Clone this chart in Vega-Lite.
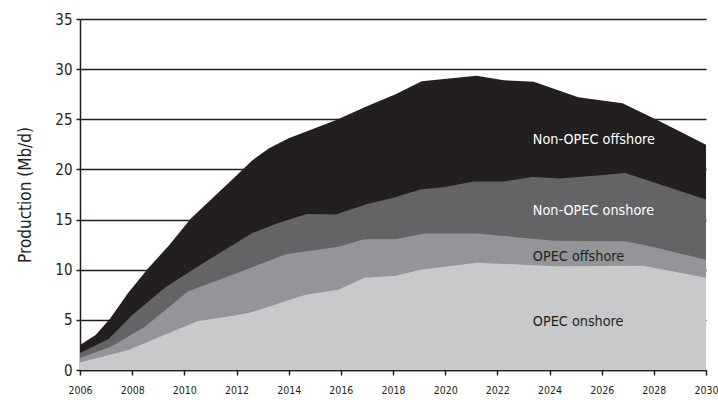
{
  "$schema": "https://vega.github.io/schema/vega-lite/v6.json",
  "width": 626,
  "height": 351,
  "autosize": "none",
  "padding": {"left": 80, "top": 19, "right": 12, "bottom": 30},
  "background": "white",
  "config": {
    "view": {"stroke": null},
    "font": "DejaVu Sans Condensed, DejaVu Sans, sans-serif"
  },
  "datasets": {
    "series": [
      {"series": "Non-OPEC offshore", "year": 2006.0, "top": 2.5},
      {"series": "Non-OPEC offshore", "year": 2006.6, "top": 3.5},
      {"series": "Non-OPEC offshore", "year": 2007.15, "top": 5.1},
      {"series": "Non-OPEC offshore", "year": 2007.85, "top": 7.7},
      {"series": "Non-OPEC offshore", "year": 2008.6, "top": 10.1},
      {"series": "Non-OPEC offshore", "year": 2009.4, "top": 12.4},
      {"series": "Non-OPEC offshore", "year": 2010.25, "top": 15.1},
      {"series": "Non-OPEC offshore", "year": 2012.0, "top": 19.4},
      {"series": "Non-OPEC offshore", "year": 2012.6, "top": 20.9},
      {"series": "Non-OPEC offshore", "year": 2013.25, "top": 22.1},
      {"series": "Non-OPEC offshore", "year": 2014.0, "top": 23.1},
      {"series": "Non-OPEC offshore", "year": 2015.8, "top": 24.9},
      {"series": "Non-OPEC offshore", "year": 2017.0, "top": 26.3},
      {"series": "Non-OPEC offshore", "year": 2018.1, "top": 27.5},
      {"series": "Non-OPEC offshore", "year": 2019.1, "top": 28.8},
      {"series": "Non-OPEC offshore", "year": 2021.2, "top": 29.35},
      {"series": "Non-OPEC offshore", "year": 2022.25, "top": 28.9},
      {"series": "Non-OPEC offshore", "year": 2023.4, "top": 28.75},
      {"series": "Non-OPEC offshore", "year": 2025.1, "top": 27.2},
      {"series": "Non-OPEC offshore", "year": 2026.8, "top": 26.6},
      {"series": "Non-OPEC offshore", "year": 2028.3, "top": 24.7},
      {"series": "Non-OPEC offshore", "year": 2030.0, "top": 22.45},

      {"series": "Non-OPEC onshore", "year": 2006.0, "top": 1.7},
      {"series": "Non-OPEC onshore", "year": 2007.1, "top": 3.1},
      {"series": "Non-OPEC onshore", "year": 2007.95, "top": 5.35},
      {"series": "Non-OPEC onshore", "year": 2009.25, "top": 8.2},
      {"series": "Non-OPEC onshore", "year": 2010.5, "top": 10.3},
      {"series": "Non-OPEC onshore", "year": 2012.0, "top": 12.7},
      {"series": "Non-OPEC onshore", "year": 2012.6, "top": 13.65},
      {"series": "Non-OPEC onshore", "year": 2013.6, "top": 14.65},
      {"series": "Non-OPEC onshore", "year": 2014.7, "top": 15.55},
      {"series": "Non-OPEC onshore", "year": 2015.8, "top": 15.5},
      {"series": "Non-OPEC onshore", "year": 2016.95, "top": 16.5},
      {"series": "Non-OPEC onshore", "year": 2018.05, "top": 17.2},
      {"series": "Non-OPEC onshore", "year": 2019.05, "top": 18.0},
      {"series": "Non-OPEC onshore", "year": 2020.0, "top": 18.25},
      {"series": "Non-OPEC onshore", "year": 2021.1, "top": 18.8},
      {"series": "Non-OPEC onshore", "year": 2022.25, "top": 18.8},
      {"series": "Non-OPEC onshore", "year": 2023.35, "top": 19.25},
      {"series": "Non-OPEC onshore", "year": 2024.4, "top": 19.1},
      {"series": "Non-OPEC onshore", "year": 2026.05, "top": 19.45},
      {"series": "Non-OPEC onshore", "year": 2026.9, "top": 19.65},
      {"series": "Non-OPEC onshore", "year": 2030.0, "top": 17.0},

      {"series": "OPEC offshore", "year": 2006.0, "top": 1.2},
      {"series": "OPEC offshore", "year": 2007.2, "top": 2.35},
      {"series": "OPEC offshore", "year": 2008.5, "top": 4.35},
      {"series": "OPEC offshore", "year": 2010.15, "top": 7.85},
      {"series": "OPEC offshore", "year": 2012.0, "top": 9.65},
      {"series": "OPEC offshore", "year": 2013.9, "top": 11.55},
      {"series": "OPEC offshore", "year": 2015.9, "top": 12.3},
      {"series": "OPEC offshore", "year": 2016.9, "top": 13.05},
      {"series": "OPEC offshore", "year": 2018.1, "top": 13.05},
      {"series": "OPEC offshore", "year": 2019.2, "top": 13.6},
      {"series": "OPEC offshore", "year": 2021.2, "top": 13.6},
      {"series": "OPEC offshore", "year": 2024.2, "top": 12.9},
      {"series": "OPEC offshore", "year": 2026.9, "top": 12.85},
      {"series": "OPEC offshore", "year": 2027.6, "top": 12.5},
      {"series": "OPEC offshore", "year": 2030.0, "top": 11.0},

      {"series": "OPEC onshore", "year": 2006.0, "top": 0.75},
      {"series": "OPEC onshore", "year": 2007.85, "top": 2.0},
      {"series": "OPEC onshore", "year": 2010.5, "top": 4.85},
      {"series": "OPEC onshore", "year": 2012.0, "top": 5.45},
      {"series": "OPEC onshore", "year": 2012.5, "top": 5.7},
      {"series": "OPEC onshore", "year": 2014.65, "top": 7.5},
      {"series": "OPEC onshore", "year": 2015.9, "top": 8.0},
      {"series": "OPEC onshore", "year": 2016.9, "top": 9.2},
      {"series": "OPEC onshore", "year": 2018.1, "top": 9.4},
      {"series": "OPEC onshore", "year": 2019.05, "top": 10.0},
      {"series": "OPEC onshore", "year": 2021.2, "top": 10.7},
      {"series": "OPEC onshore", "year": 2024.2, "top": 10.35},
      {"series": "OPEC onshore", "year": 2027.6, "top": 10.4},
      {"series": "OPEC onshore", "year": 2030.0, "top": 9.2}
    ],
    "labels": [
      {"label": "Non-OPEC offshore", "year": 2023.36, "value": 22.95},
      {"label": "Non-OPEC onshore", "year": 2023.36, "value": 15.9},
      {"label": "OPEC offshore", "year": 2023.36, "value": 11.3},
      {"label": "OPEC onshore", "year": 2023.36, "value": 4.8}
    ]
  },
  "encoding": {
    "x": {
      "field": "year",
      "type": "quantitative",
      "scale": {"domain": [2006, 2030], "nice": false, "zero": false},
      "axis": {
        "title": null,
        "values": [2006, 2008, 2010, 2012, 2014, 2016, 2018, 2020, 2022, 2024, 2026, 2028, 2030],
        "format": "d",
        "grid": false,
        "domainColor": "#231f20",
        "domainWidth": 1.5,
        "tickColor": "#231f20",
        "tickWidth": 1.5,
        "tickSize": 5,
        "labelFontSize": 10.5,
        "labelColor": "#231f20",
        "labelPadding": 10,
        "labelFlush": false
      }
    }
  },
  "layer": [
    {
      "data": {"name": "series"},
      "transform": [{"filter": "datum.series === 'Non-OPEC offshore'"}],
      "mark": {"type": "area", "color": "#231f20"},
      "encoding": {
        "y": {
          "field": "top",
          "type": "quantitative",
          "scale": {"domain": [0, 35], "nice": false},
          "axis": {
            "title": "Production (Mb/d)",
            "titleFontSize": 17,
            "titleFontWeight": "normal",
            "titleColor": "#231f20",
            "titlePadding": 20,
            "values": [0, 5, 10, 15, 20, 25, 30, 35],
            "grid": true,
            "gridColor": "#231f20",
            "gridWidth": 1.5,
            "domainColor": "#231f20",
            "domainWidth": 1.5,
            "tickColor": "#231f20",
            "tickWidth": 1.5,
            "tickSize": 4,
            "labelFontSize": 15,
            "labelColor": "#231f20",
            "labelPadding": 4
          }
        }
      }
    },
    {
      "data": {"name": "series"},
      "transform": [{"filter": "datum.series === 'Non-OPEC onshore'"}],
      "mark": {"type": "area", "color": "#646466"},
      "encoding": {"y": {"field": "top", "type": "quantitative"}}
    },
    {
      "data": {"name": "series"},
      "transform": [{"filter": "datum.series === 'OPEC offshore'"}],
      "mark": {"type": "area", "color": "#939598"},
      "encoding": {"y": {"field": "top", "type": "quantitative"}}
    },
    {
      "data": {"name": "series"},
      "transform": [{"filter": "datum.series === 'OPEC onshore'"}],
      "mark": {"type": "area", "color": "#c8c9cb"},
      "encoding": {"y": {"field": "top", "type": "quantitative"}}
    },
    {
      "data": {"name": "labels"},
      "mark": {"type": "text", "align": "left", "baseline": "middle", "fontSize": 14.3},
      "encoding": {
        "y": {"field": "value", "type": "quantitative"},
        "text": {"field": "label"},
        "color": {
          "field": "label",
          "type": "nominal",
          "scale": {
            "domain": ["Non-OPEC offshore", "Non-OPEC onshore", "OPEC offshore", "OPEC onshore"],
            "range": ["#ffffff", "#ffffff", "#231f20", "#231f20"]
          },
          "legend": null
        }
      }
    }
  ]
}
